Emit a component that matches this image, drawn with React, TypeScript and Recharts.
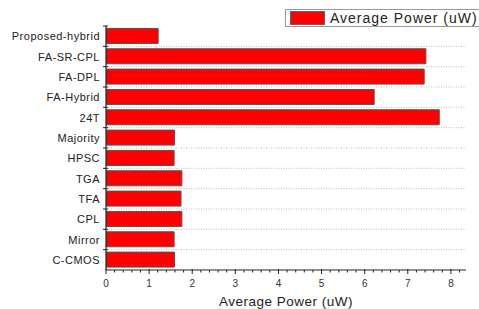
import { BarChart, Bar, XAxis, YAxis, CartesianGrid, Legend } from "recharts";

// Average power per full-adder design (uW), read top to bottom
const categories = [
  "Proposed-hybrid",
  "FA-SR-CPL",
  "FA-DPL",
  "FA-Hybrid",
  "24T",
  "Majority",
  "HPSC",
  "TGA",
  "TFA",
  "CPL",
  "Mirror",
  "C-CMOS",
];
const powers = [1.21, 7.42, 7.38, 6.22, 7.73, 1.59, 1.58, 1.76, 1.74, 1.76, 1.58, 1.59];
const majorTicks = [0, 1, 2, 3, 4, 5, 6, 7, 8];
const seriesName = "Average Power (uW)";

const W = 479;
const H = 309;
const M = { top: 8, right: 13, bottom: 0, left: 0 };
const PLOT_H = 244;
const FONT = "'Liberation Sans', Arial, sans-serif";

const data = categories.map((name, i) => ({ name, power: powers[i] }));

// minor ticks every 0.2, majors at integers
const allTicks: number[] = [];
for (let i = 0; i <= 41; i++) allTicks.push(Math.round(i * 2) / 10);

function XTick(props: any) {
  const { x, y, payload } = props;
  const v = payload.value;
  const major = Math.abs(v - Math.round(v)) < 1e-6;
  return (
    <g>
      <line x1={x} x2={x} y1={y - (major ? 1 : 0)} y2={y + (major ? 4 : 2.5)} stroke="#222" strokeWidth={1} />
      {major && (
        <text x={x} y={y + 13} textAnchor="middle" dominantBaseline="central" fontSize={10} fontFamily={FONT} fill="#333">
          {v}
        </text>
      )}
    </g>
  );
}

function YTick(props: any) {
  const { x, y, payload } = props;
  const band = PLOT_H / categories.length;
  const top = y - band / 2;
  return (
    <g>
      <line x1={x - 3} x2={x + 2} y1={top} y2={top} stroke="#222" strokeWidth={1} />
      <text
        x={x - 6}
        y={y}
        textAnchor="end"
        dominantBaseline="central"
        fontSize={11}
        letterSpacing={0.5}
        fontFamily={FONT}
        fill="#222"
      >
        {payload.value}
      </text>
    </g>
  );
}

function LegendBox() {
  return (
    <div
      style={{
        height: 18,
        width: 220,
        boxSizing: "border-box",
        border: "1px solid #9a9a9a",
        background: "#fff",
        display: "flex",
        alignItems: "center",
        fontFamily: FONT,
      }}
    >
      <span
        style={{
          display: "inline-block",
          width: 35,
          height: 14,
          marginLeft: 4,
          background: "#ff0000",
          border: "1px solid #666",
          boxSizing: "border-box",
        }}
      />
      <span style={{ marginLeft: 5, fontSize: 14, letterSpacing: 1, color: "#222", whiteSpace: "nowrap" }}>
        {seriesName}
      </span>
    </div>
  );
}

export default function App() {
  return (
    <div style={{ position: "absolute", left: 0, top: 0, width: W, height: H, background: "#fff", overflow: "hidden" }}>
      <BarChart width={W} height={H} data={data} layout="vertical" margin={M} barCategoryGap="12%">
        <CartesianGrid
          vertical={false}
          stroke="#bdbdbd"
          strokeDasharray="1 1.5"
          horizontalCoordinatesGenerator={({ offset }: any) =>
            categories.slice(1).map((_, i) => offset.top + ((i + 1) * offset.height) / categories.length)
          }
        />
        <XAxis
          type="number"
          domain={[0, 8.35]}
          ticks={allTicks}
          interval={0}
          tick={<XTick />}
          tickLine={false}
          tickSize={0}
          tickMargin={0}
          axisLine={{ stroke: "#222", strokeWidth: 1.2 }}
          height={39}
          allowDataOverflow
          label={{
            value: seriesName,
            position: "insideBottom",
            offset: 3,
            fontSize: 13.5,
            letterSpacing: 0.5,
            fontFamily: FONT,
            fill: "#222",
          }}
        />
        <YAxis
          type="category"
          dataKey="name"
          width={106}
          interval={0}
          tick={<YTick />}
          tickLine={false}
          tickSize={0}
          tickMargin={0}
          axisLine={{ stroke: "#222", strokeWidth: 1.2 }}
        />
        <Legend
          verticalAlign="top"
          content={<LegendBox />}
          wrapperStyle={{ position: "absolute", top: 9, left: 285, width: 220, height: 18 }}
        />
        <Bar dataKey="power" name={seriesName} fill="#ff0000" stroke="#555" strokeWidth={1} isAnimationActive={false} />
      </BarChart>
    </div>
  );
}
